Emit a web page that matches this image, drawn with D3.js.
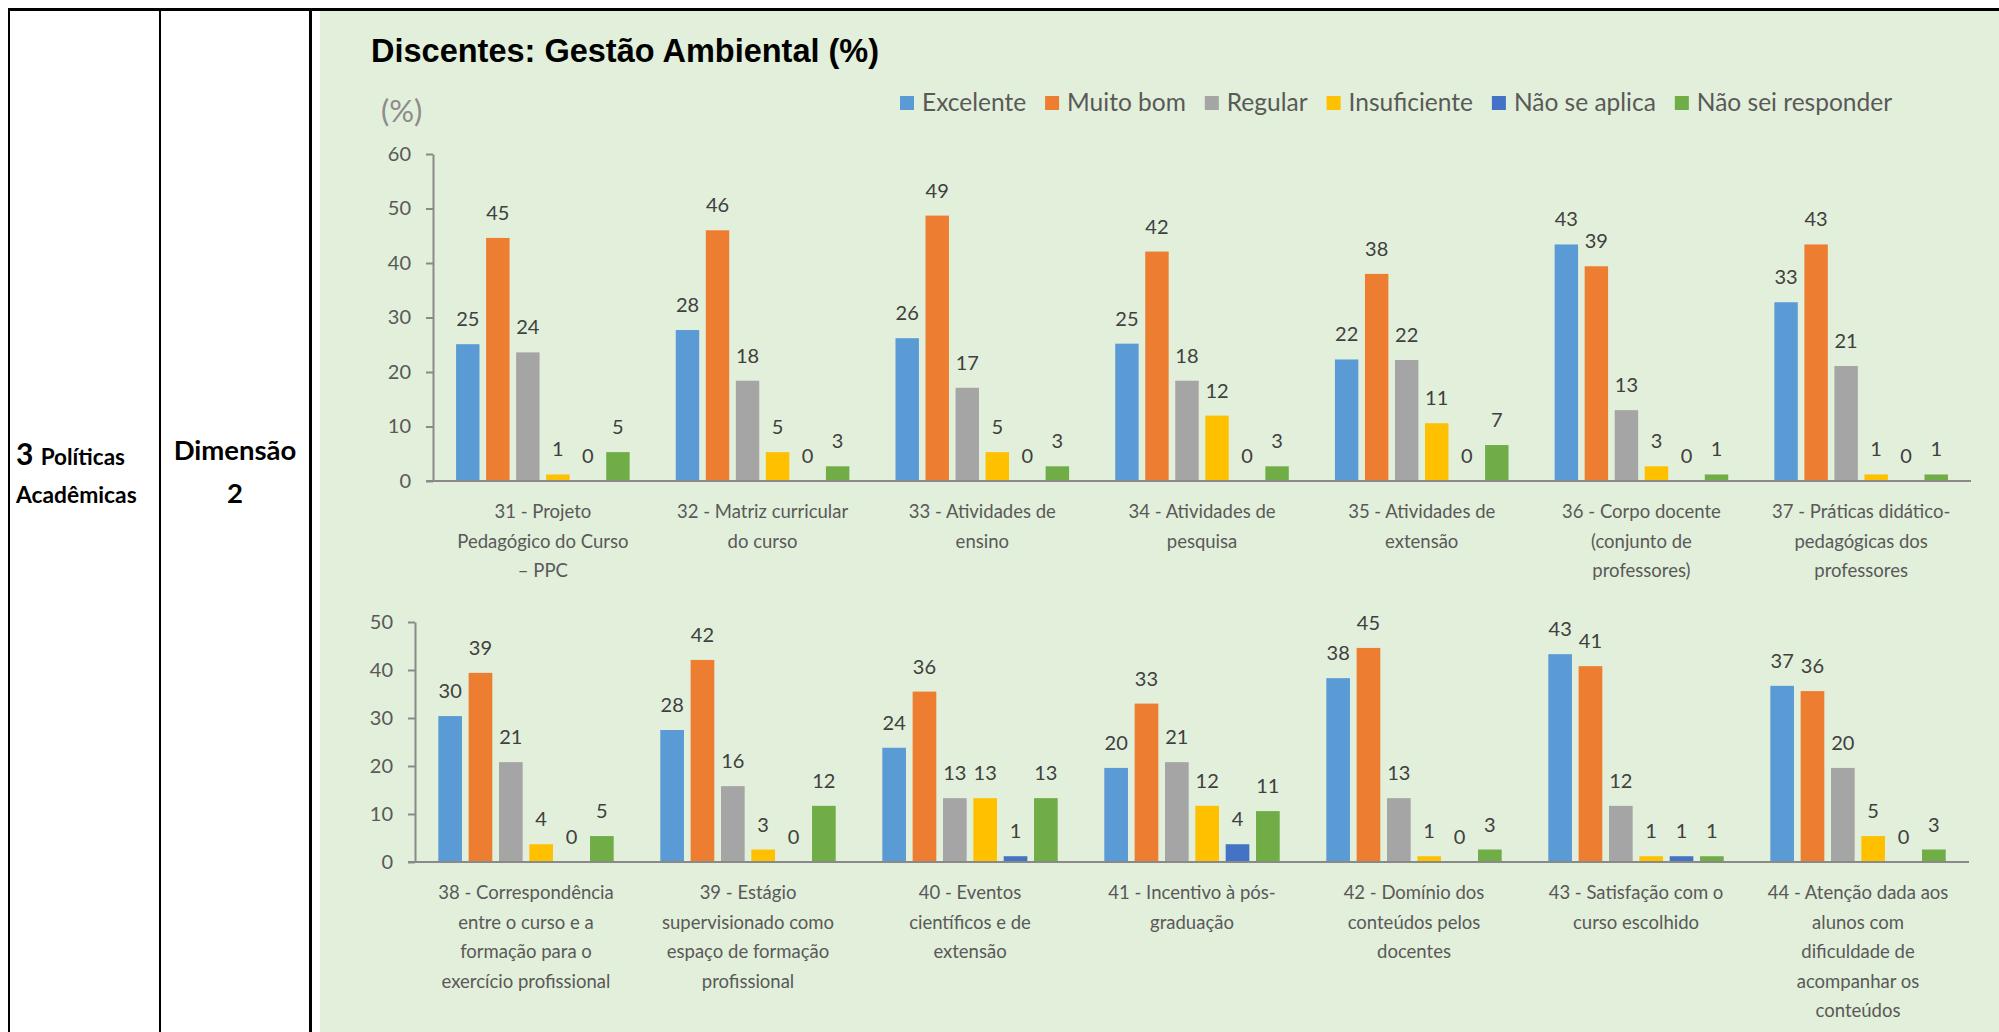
<!DOCTYPE html>
<html>
<head>
<meta charset="utf-8">
<script src="https://cdn.jsdelivr.net/npm/d3@7"></script>
<style>
  body { margin: 0; background: #fff; }
  svg text { font-family: Lato, "Open Sans", sans-serif; }
</style>
</head>
<body>
<div id="chart"></div>
<script>
// series names (legend order)
var seriesNames = ["Excelente", "Muito bom", "Regular", "Insuficiente", "Não se aplica", "Não sei responder"];

// top chart: questions 31-37 (label lines as wrapped in the original)
var topCategories = [
  ["31 - Projeto", "Pedagógico do Curso", "– PPC"],
  ["32 - Matriz curricular", "do curso"],
  ["33 - Atividades de", "ensino"],
  ["34 - Atividades de", "pesquisa"],
  ["35 - Atividades de", "extensão"],
  ["36 - Corpo docente", "(conjunto de", "professores)"],
  ["37 - Práticas didático-", "pedagógicas dos", "professores"]
];
var topExcelente    = [25.1, 27.7, 26.2, 25.2, 22.3, 43.4, 32.8];
var topMuitoBom     = [44.6, 46.0, 48.7, 42.1, 38.0, 39.4, 43.4];
var topRegular      = [23.6, 18.4, 17.1, 18.4, 22.2, 13.0, 21.1];
var topInsuficiente = [1.2, 5.3, 5.3, 12.0, 10.6, 2.7, 1.2];
var topNaoAplica    = [0, 0, 0, 0, 0, 0, 0];
var topNaoSei       = [5.3, 2.7, 2.7, 2.7, 6.6, 1.2, 1.2];
var topTicks = [0, 10, 20, 30, 40, 50, 60];

// bottom chart: questions 38-44
var bottomCategories = [
  ["38 - Correspondência", "entre o curso e a", "formação para o", "exercício profissional"],
  ["39 - Estágio", "supervisionado como", "espaço de formação", "profissional"],
  ["40 - Eventos", "científicos e de", "extensão"],
  ["41 - Incentivo à pós-", "graduação"],
  ["42 - Domínio dos", "conteúdos pelos", "docentes"],
  ["43 - Satisfação com o", "curso escolhido"],
  ["44 - Atenção dada aos", "alunos com", "dificuldade de", "acompanhar os", "conteúdos"]
];
var bottomExcelente    = [30.4, 27.5, 23.8, 19.6, 38.3, 43.3, 36.7];
var bottomMuitoBom     = [39.4, 42.1, 35.5, 33.0, 44.6, 40.8, 35.6];
var bottomRegular      = [20.8, 15.8, 13.3, 20.8, 13.3, 11.7, 19.6];
var bottomInsuficiente = [3.7, 2.6, 13.3, 11.7, 1.2, 1.2, 5.4];
var bottomNaoAplica    = [0, 0, 1.2, 3.7, 0, 1.2, 0];
var bottomNaoSei       = [5.4, 11.7, 13.3, 10.6, 2.6, 1.2, 2.6];
var bottomTicks = [0, 10, 20, 30, 40, 50];

// series colours
var seriesColors = ["#5B9BD5", "#ED7D31", "#A5A5A5", "#FFC000", "#4472C4", "#70AD47"];

var W = 1999, H = 1032;
var axisColor = "#898989";
var color = d3.scaleOrdinal().domain(seriesNames).range(seriesColors);

var svg = d3.select("#chart").append("svg")
    .attr("width", W)
    .attr("height", H);

// green chart panel
svg.append("rect")
    .attr("x", 320).attr("y", 10)
    .attr("width", W - 320).attr("height", H - 10)
    .attr("fill", "#E2EFDA");

// table borders
svg.append("line").attr("x1", 8).attr("x2", W).attr("y1", 9.5).attr("y2", 9.5)
    .attr("stroke", "#000").attr("stroke-width", 3);
[[9, 2], [160, 2], [310.5, 3]].forEach(function(v) {
  svg.append("line").attr("x1", v[0]).attr("x2", v[0]).attr("y1", 8).attr("y2", H)
      .attr("stroke", "#000").attr("stroke-width", v[1]);
});

// left cells text
var cell1 = svg.append("text").attr("x", 16).attr("y", 465).attr("font-weight", 700).attr("fill", "#000");
cell1.append("tspan").attr("font-size", 30).text("3 ");
cell1.append("tspan").attr("font-size", 22.5).text("Políticas");
svg.append("text").attr("x", 16).attr("y", 503).attr("font-weight", 700)
    .attr("font-size", 22.8).attr("fill", "#000").text("Acadêmicas");
svg.append("text").attr("x", 235).attr("y", 460).attr("font-weight", 700)
    .attr("font-size", 27.5).attr("text-anchor", "middle").attr("fill", "#000").text("Dimensão");
svg.append("text").attr("x", 235).attr("y", 503).attr("font-weight", 700)
    .attr("font-size", 27.5).attr("text-anchor", "middle").attr("fill", "#000").text("2");

// title
svg.append("text")
    .attr("x", 371).attr("y", 62)
    .style("font-family", "'Liberation Sans', Arial, sans-serif")
    .attr("font-weight", 700).attr("font-size", 32.5).attr("fill", "#000")
    .text("Discentes: Gestão Ambiental (%)");

// y unit label
svg.append("text")
    .attr("x", 381).attr("y", 122)
    .attr("font-size", 31).attr("fill", "#8c8c8c")
    .text("(%)");

// legend
var legend = svg.append("g").attr("transform", "translate(900,103)");
var lx = 0;
seriesNames.forEach(function(name) {
  var g = legend.append("g").attr("transform", "translate(" + lx + ",0)");
  g.append("rect").attr("x", 0).attr("y", -7).attr("width", 14).attr("height", 14)
      .attr("fill", color(name));
  var t = g.append("text").attr("x", 22).attr("y", 8)
      .attr("font-size", 24.5).attr("fill", "#595959").text(name);
  lx += 22 + t.node().getComputedTextLength() + 19;
});

function drawGroupChart(opts) {
  var n = opts.categories.length;
  var ids = d3.range(n);
  var data = ids.map(function(i) {
    return opts.values.map(function(arr, s) { return {series: seriesNames[s], value: arr[i]}; });
  });

  var x0 = d3.scaleBand().domain(ids).range([opts.left, opts.right])
      .paddingInner(0.21).paddingOuter(0.105);
  var x1 = d3.scaleBand().domain(seriesNames).range([0, x0.bandwidth()]).paddingInner(0.22);
  var y = d3.scaleLinear().domain([0, opts.max]).range([opts.bottom, opts.top]);

  var g = svg.append("g");

  // y axis
  var yAxis = g.append("g")
      .attr("transform", "translate(" + opts.left + ",0)")
      .call(d3.axisLeft(y).tickValues(opts.ticks).tickSize(7).tickPadding(15).tickSizeOuter(0));
  yAxis.select(".domain").attr("stroke", axisColor).attr("stroke-width", 2);
  yAxis.selectAll(".tick line").attr("stroke", axisColor).attr("stroke-width", 2);
  yAxis.selectAll(".tick text")
      .style("font-family", "Lato, sans-serif")
      .attr("font-size", 20).attr("fill", "#595959");

  // bars
  var groups = g.selectAll(".grp").data(data).enter().append("g")
      .attr("transform", function(d, i) { return "translate(" + x0(i) + ",0)"; });
  groups.selectAll("rect").data(function(d) { return d; }).enter().append("rect")
      .attr("x", function(d) { return x1(d.series); })
      .attr("width", x1.bandwidth())
      .attr("y", function(d) { return y(d.value); })
      .attr("height", function(d) { return y(0) - y(d.value); })
      .attr("fill", function(d) { return color(d.series); });
  groups.selectAll("text").data(function(d) { return d; }).enter().append("text")
      .attr("x", function(d) { return x1(d.series) + x1.bandwidth() / 2; })
      .attr("y", function(d) { return y(d.value) - 18; })
      .attr("text-anchor", "middle")
      .attr("font-size", 20).attr("fill", "#404040")
      .text(function(d) { return Math.round(d.value); });

  // x axis with wrapped labels
  var xAxis = g.append("g")
      .attr("transform", "translate(0," + opts.bottom + ")")
      .call(d3.axisBottom(x0).tickSize(0).tickFormat(""));
  xAxis.select(".domain").attr("stroke", axisColor).attr("stroke-width", 2)
      .attr("d", "M" + (opts.left - 7) + ",0H" + opts.right);
  xAxis.selectAll(".tick text").remove();
  xAxis.selectAll(".tick").each(function(i) {
    var t = d3.select(this).append("text")
        .attr("text-anchor", "middle")
        .attr("font-size", 18.5).attr("fill", "#595959");
    opts.categories[i].forEach(function(line, k) {
      t.append("tspan").attr("x", 0).attr("y", 37 + k * 29.5).text(line);
    });
  });
}

drawGroupChart({
  categories: topCategories,
  values: [topExcelente, topMuitoBom, topRegular, topInsuficiente, topNaoAplica, topNaoSei],
  ticks: topTicks, max: 60,
  left: 433, right: 1971, top: 154, bottom: 481
});

drawGroupChart({
  categories: bottomCategories,
  values: [bottomExcelente, bottomMuitoBom, bottomRegular, bottomInsuficiente, bottomNaoAplica, bottomNaoSei],
  ticks: bottomTicks, max: 50,
  left: 415, right: 1969, top: 622, bottom: 862
});
</script>
</body>
</html>
